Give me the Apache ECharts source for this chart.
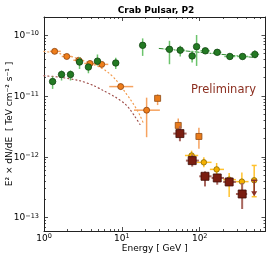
<!DOCTYPE html>
<html><head><meta charset="utf-8">
<script src="https://cdn.jsdelivr.net/npm/echarts@6/dist/echarts.min.js"></script>
<style>html,body{margin:0;padding:0;background:#fff}#c{width:277px;height:265px}</style>
</head><body><div id="c"></div>
<script>
// ---------- text ----------
const titleText = 'Crab Pulsar, P2';
const xName = 'Energy [ GeV ]';
const yName = 'E² × dN/dE  [ TeV cm⁻² s⁻¹ ]';
const watermark = 'Preliminary';

// ---------- axes ----------
const xMin = 1, xMax = 700;
const yMin = 6e-14, yMax = 2e-10;
const xMajor = [1, 10, 100];
const yMajor = [1e-13, 1e-12, 1e-11, 1e-10];
const minorK = [2, 3, 4, 5, 6, 7, 8, 9];

// ---------- green points ----------
const greenE   = [1.29, 1.68, 2.19, 2.86, 3.72, 4.86, 8.35, 18.5, 40.9, 56.2, 79.9, 91.2, 118, 168, 244, 355, 511];
const greenF   = [1.73e-11, 2.26e-11, 2.26e-11, 3.63e-11, 3.0e-11, 3.75e-11, 3.5e-11, 6.84e-11, 5.87e-11, 5.69e-11, 4.57e-11, 6.5e-11, 5.55e-11, 5.24e-11, 4.48e-11, 4.48e-11, 4.85e-11];
const greenFhi = [2.09e-11, 2.63e-11, 2.63e-11, 4.36e-11, 3.38e-11, 4.83e-11, 4.25e-11, 8.89e-11, 8.11e-11, 6.7e-11, 5.55e-11, 1.01e-10, 6.2e-11, 5.87e-11, 5.02e-11, 5.02e-11, 5.65e-11];
const greenFlo = [1.31e-11, 1.80e-11, 1.80e-11, 2.79e-11, 2.37e-11, 3.18e-11, 2.79e-11, 4.58e-11, 3.34e-11, 4.48e-11, 3.56e-11, 3.13e-11, 4.95e-11, 4.67e-11, 4.0e-11, 4.0e-11, 4.17e-11];
const greenElo = [1.21, 1.58, 2.06, 2.69, 3.50, 4.57, 7.9, 17.6, 35.7, 50.5, 73.3, 88.0, 102, 148, 207, 303, 441];
const greenEhi = [1.38, 1.79, 2.33, 3.04, 3.95, 5.17, 8.8, 19.5, 45.7, 64.6, 87.5, 94.5, 135, 190, 287, 419, 580];

// ---------- orange circles ----------
const orangeE   = [1.37, 1.96, 2.80, 3.90, 5.52, 9.66, 20.8];
const orangeF   = [5.44e-11, 4.48e-11, 3.88e-11, 3.44e-11, 3.32e-11, 1.43e-11, 5.85e-12];
const orangeElo = [1.19, 1.69, 2.38, 3.29, 4.52, 6.89, 14.3];
const orangeEhi = [1.64, 2.27, 3.19, 4.65, 6.69, 14.0, 30.8];
const orangeFlo = [5.03e-11, 4.15e-11, 3.59e-11, 3.19e-11, 3.07e-11, 1.27e-11, 2.1e-12];
const orangeFhi = [5.87e-11, 4.84e-11, 4.19e-11, 3.72e-11, 3.59e-11, 1.61e-11, 9.4e-12];

// ---------- orange squares ----------
const squareE   = [28.8, 53, 97.7];
const squareF   = [9.16e-12, 3.28e-12, 2.16e-12];
const squareFlo = [7.1e-12, 2.39e-12, 1.35e-12];
const squareFhi = [1.07e-11, 4.28e-12, 3.0e-12];

// ---------- gold circles ----------
const goldE   = [78.7, 113, 165, 239, 348, 501];
const goldF   = [1.05e-12, 8.1e-13, 6.2e-13, 4.2e-13, 3.9e-13, 4.1e-13];
const goldElo = [64.6, 91.2, 135, 200, 292, null];
const goldEhi = [95.7, 142, 205, 292, 424, null];
const goldFlo = [8.4e-13, 6.7e-13, 4.8e-13, 2.17e-13, 2.7e-13, 2.2e-13];
const goldFhi = [1.26e-12, 9.8e-13, 7.9e-13, 5.4e-13, 5.5e-13, 7.2e-13];
const goldCaps = [false, false, false, false, false, true];

// ---------- dark red squares ----------
const redE   = [55.7, 80.1, 117, 168, 239, 351];
const redF   = [2.41e-12, 8.65e-13, 4.77e-13, 4.48e-13, 3.85e-13, 2.44e-13];
const redElo = [45.7, 66.5, 98.6, 142, 200, 292];
const redEhi = [67.9, 97.7, 142, 205, 292, 407];
const redFlo = [1.80e-12, 6.9e-13, 3.25e-13, 3.47e-13, 3.3e-13, 1.38e-13];
const redFhi = [3.19e-12, 1.09e-12, 5.75e-13, 5.27e-13, 4.5e-13, 3.7e-13];
const redUlE = [501];
const redUlF = [4.1e-13];

// ---------- model curves ----------
const orangeCurveE = [1, 1.60, 2.50, 3.89, 5.23, 6.63, 8.15, 9.73, 11.3, 13.1, 15.0, 17.1, 18.7];
const orangeCurveF = [5.42e-11, 4.99e-11, 4.28e-11, 3.47e-11, 2.98e-11, 2.46e-11, 1.92e-11, 1.44e-11, 1.11e-11, 8.5e-12, 6.5e-12, 4.8e-12, 3.67e-12];
const redCurveE = [1, 1.60, 2.90, 4.26, 5.72, 8.15, 10.96, 12.7, 14.7, 17.1];
const redCurveF = [2.16e-11, 2.04e-11, 1.78e-11, 1.50e-11, 1.24e-11, 9.7e-12, 7.43e-12, 6.03e-12, 4.61e-12, 3.40e-12];
const greenLineE = [30.2, 537];
const greenLineF = [6.07e-11, 4.28e-11];

// =====================================================
const L = Math.log10;
const FONT = 'DejaVu Sans';
const AX = '#222';
const lg = v => (v == null ? NaN : L(v));

const xMinor = [], yMinor = [];
for (let n = 0; n <= 2; n++) minorK.forEach(k => { const v = k * Math.pow(10, n); if (v < xMax) xMinor.push(L(v)); });
for (let n = -14; n <= -10; n++) minorK.forEach(k => { const v = k * Math.pow(10, n); if (v >= yMin && v <= yMax) yMinor.push(L(v)); });

const rich = {
  b: {fontSize: 9, fontFamily: FONT, color: '#000', verticalAlign: 'bottom', lineHeight: 10},
  s: {fontSize: 6.5, fontFamily: FONT, color: '#000', verticalAlign: 'top', lineHeight: 8, padding: [0, 0, 5, 0]}
};
const supLabel = v => `{b|10}{s|${String(Math.round(v)).replace('-', '−')}}`;

function axisBase(gridIndex, position, min, max, ticks, len, lineShow) {
  return {
    gridIndex, type: 'value', position, min, max,
    axisLine: {show: lineShow, onZero: false, lineStyle: {color: AX, width: 1}},
    axisTick: {show: true, inside: true, length: len, customValues: ticks, lineStyle: {color: AX, width: 0.8}},
    axisLabel: {show: false},
    splitLine: {show: false}
  };
}
const xA0 = axisBase(0, 'bottom', L(xMin), L(xMax), xMajor.map(L), 4, true);
xA0.axisLabel = {show: true, customValues: xMajor.map(L), margin: 2, formatter: supLabel, rich};
xA0.name = xName; xA0.nameLocation = 'middle'; xA0.nameGap = 13; xA0.nameMoveOverlap = false;
xA0.nameTextStyle = {fontFamily: FONT, fontSize: 9, color: '#000'};
const yA0 = axisBase(0, 'left', L(yMin), L(yMax), yMajor.map(L), 4, true);
yA0.axisLabel = {show: true, customValues: yMajor.map(L), margin: 5, formatter: supLabel, rich};
yA0.name = yName; yA0.nameLocation = 'middle'; yA0.nameGap = 34; yA0.nameMoveOverlap = false;
yA0.nameTextStyle = {fontFamily: FONT, fontSize: 9, color: '#000', verticalAlign: 'middle'};

const xAxes = [xA0,
  axisBase(0, 'top', L(xMin), L(xMax), xMajor.map(L), 4, true),
  axisBase(1, 'bottom', L(xMin), L(xMax), xMinor, 2, false),
  axisBase(1, 'top', L(xMin), L(xMax), xMinor, 2, false)];
const yAxes = [yA0,
  axisBase(0, 'right', L(yMin), L(yMax), yMajor.map(L), 4, true),
  axisBase(1, 'left', L(yMin), L(yMax), yMinor, 2, false),
  axisBase(1, 'right', L(yMin), L(yMax), yMinor, 2, false)];

function errorBars(E, F, Elo, Ehi, Flo, Fhi, color, width, z, caps) {
  const data = E.map((e, i) => [L(e), L(F[i]),
    Elo ? lg(Elo[i]) : NaN, Ehi ? lg(Ehi[i]) : NaN,
    Flo ? lg(Flo[i]) : NaN, Fhi ? lg(Fhi[i]) : NaN]);
  return {
    type: 'custom', xAxisIndex: 0, yAxisIndex: 0, z, silent: true, clip: false,
    encode: {x: 0, y: 1}, data,
    renderItem: (params, api) => {
      const xv = api.value(0), yv = api.value(1);
      const xl = api.value(2), xh = api.value(3), yl = api.value(4), yh = api.value(5);
      const st = {stroke: color, lineWidth: width};
      const ch = [];
      if (isFinite(xl) && isFinite(xh)) {
        const a = api.coord([xl, yv]), b = api.coord([xh, yv]);
        ch.push({type: 'line', shape: {x1: a[0], y1: a[1], x2: b[0], y2: b[1]}, style: st});
      }
      if (isFinite(yl) && isFinite(yh)) {
        const a = api.coord([xv, yl]), b = api.coord([xv, yh]);
        ch.push({type: 'line', shape: {x1: a[0], y1: a[1], x2: b[0], y2: b[1]}, style: st});
        if (caps && caps[params.dataIndex]) {
          [a, b].forEach(p => ch.push({type: 'line', shape: {x1: p[0] - 2.5, y1: p[1], x2: p[0] + 2.5, y2: p[1]}, style: st}));
        }
      }
      return {type: 'group', children: ch};
    }
  };
}
function markers(E, F, symbol, size, fill, edge, z) {
  return {type: 'scatter', xAxisIndex: 0, yAxisIndex: 0, z, silent: true, symbol, symbolSize: size,
    data: E.map((e, i) => [L(e), L(F[i])]),
    itemStyle: {color: fill, borderColor: edge, borderWidth: 0.8, opacity: 1}};
}
function curve(E, F, color, width, dash, z, smooth) {
  return {type: 'line', xAxisIndex: 0, yAxisIndex: 0, z, silent: true, symbol: 'none', smooth,
    data: E.map((e, i) => [L(e), L(F[i])]),
    lineStyle: {color, width, type: dash, cap: 'round'}};
}
const upperLimit = {
  type: 'custom', xAxisIndex: 0, yAxisIndex: 0, z: 12, silent: true, clip: false, encode: {x: 0, y: 1},
  data: redUlE.map((e, i) => [L(e), L(redUlF[i])]),
  renderItem: (params, api) => {
    const c = api.coord([api.value(0), api.value(1)]);
    const col = '#8a3028';
    return {type: 'group', children: [
      {type: 'line', shape: {x1: c[0] - 3, y1: c[1], x2: c[0] + 3, y2: c[1]}, style: {stroke: col, lineWidth: 1.5}},
      {type: 'line', shape: {x1: c[0], y1: c[1], x2: c[0], y2: c[1] + 12}, style: {stroke: col, lineWidth: 1.5}},
      {type: 'polygon', shape: {points: [[c[0] - 3, c[1] + 11], [c[0] + 3, c[1] + 11], [c[0], c[1] + 16]]}, style: {fill: col}}
    ]};
  }
};

const series = [
  curve(orangeCurveE, orangeCurveF, '#f39a4c', 1.2, [1, 3], 2, 0.3),
  curve(redCurveE, redCurveF, '#a0504c', 1.2, [1, 3], 2, 0.3),
  curve(greenLineE, greenLineF, '#2e8b2e', 1.0, [4, 2, 1, 2], 2, false),
  errorBars(orangeE, orangeF, orangeElo, orangeEhi, orangeFlo, orangeFhi, '#f6a360', 1.5, 3),
  markers(orangeE, orangeF, 'circle', 6, '#ef7d1a', '#8a4310', 4),
  errorBars(greenE, greenF, greenElo, greenEhi, greenFlo, greenFhi, '#6cc46c', 1.5, 5),
  markers(greenE, greenF, 'circle', 6.5, '#237a23', '#134513', 6),
  errorBars(squareE, squareF, null, null, squareFlo, squareFhi, '#f6a360', 1.5, 7),
  markers(squareE, squareF, 'rect', 6, '#e97b1b', '#8e4a14', 8),
  errorBars(goldE, goldF, goldElo, goldEhi, goldFlo, goldFhi, '#ffc22e', 1.5, 9, goldCaps),
  markers(goldE, goldF, 'circle', 5.5, '#f4b000', '#8a6a00', 10),
  errorBars(redE, redF, redElo, redEhi, redFlo, redFhi, '#a8665e', 2, 11),
  markers(redE, redF, 'rect', 8, '#7a1d10', '#3f0d06', 12),
  upperLimit
];

const chart = echarts.init(document.getElementById('c'), null, {renderer: 'canvas'});
chart.setOption({
  animation: false,
  backgroundColor: '#fff',
  grid: [
    {left: 44, top: 17, right: 11.5, bottom: 34, containLabel: false, outerBoundsMode: 'none'},
    {left: 44, top: 17, right: 11.5, bottom: 34, containLabel: false, outerBoundsMode: 'none'}
  ],
  xAxis: xAxes,
  yAxis: yAxes,
  series,
  graphic: [
    {type: 'text', x: 156, y: 11, silent: true,
     style: {text: titleText, fontFamily: FONT, fontSize: 9, fontWeight: 'bold', fill: '#000', align: 'center', verticalAlign: 'middle'}},
    {type: 'text', x: 223.5, y: 90, silent: true,
     style: {text: watermark, fontFamily: FONT, fontSize: 11.5, fill: '#8b2e1f', align: 'center', verticalAlign: 'middle'}}
  ]
});
</script>
</body></html>
